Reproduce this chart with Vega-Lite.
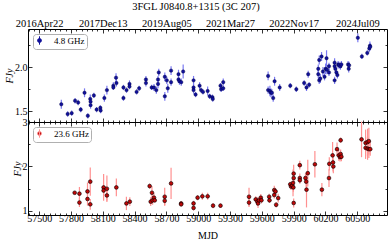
{
  "$schema": "https://vega.github.io/schema/vega-lite/v6.json",
  "padding": {"left": 4, "top": 2, "right": 2, "bottom": 2},
  "title": {"text": "3FGL J0840.8+1315 (3C 207)", "anchor": "middle", "fontSize": 10.5, "font": "Liberation Serif", "fontWeight": "normal", "color": "black", "offset": 3},
  "bounds": "flush",
  "datasets": {
    "c": [
      {"band":"4.8 GHz","mjd":57709,"f":1.58,"err":0.05},{"band":"4.8 GHz","mjd":57769,"f":1.47,"err":0.03},{"band":"4.8 GHz","mjd":57807,"f":1.48,"err":0.03},{"band":"4.8 GHz","mjd":57839,"f":1.62,"err":0.03},{"band":"4.8 GHz","mjd":57868,"f":1.60,"err":0.03},{"band":"4.8 GHz","mjd":57892,"f":1.52,"err":0.03},{"band":"4.8 GHz","mjd":57928,"f":1.71,"err":0.05},{"band":"4.8 GHz","mjd":57959,"f":1.45,"err":0.03},{"band":"4.8 GHz","mjd":57982,"f":1.64,"err":0.05},{"band":"4.8 GHz","mjd":57985,"f":1.61,"err":0.04},{"band":"4.8 GHz","mjd":57985,"f":1.57,"err":0.04},{"band":"4.8 GHz","mjd":58016,"f":1.68,"err":0.03},{"band":"4.8 GHz","mjd":58042,"f":1.52,"err":0.03},{"band":"4.8 GHz","mjd":58077,"f":1.54,"err":0.03},{"band":"4.8 GHz","mjd":58080,"f":1.51,"err":0.03},{"band":"4.8 GHz","mjd":58115,"f":1.65,"err":0.04},{"band":"4.8 GHz","mjd":58139,"f":1.74,"err":0.05},{"band":"4.8 GHz","mjd":58200,"f":1.79,"err":0.04},{"band":"4.8 GHz","mjd":58200,"f":1.77,"err":0.03},{"band":"4.8 GHz","mjd":58225,"f":1.88,"err":0.05},{"band":"4.8 GHz","mjd":58229,"f":1.82,"err":0.04},{"band":"4.8 GHz","mjd":58295,"f":1.77,"err":0.03},{"band":"4.8 GHz","mjd":58295,"f":1.65,"err":0.03},{"band":"4.8 GHz","mjd":58324,"f":1.74,"err":0.03},{"band":"4.8 GHz","mjd":58352,"f":1.81,"err":0.04},{"band":"4.8 GHz","mjd":58352,"f":1.78,"err":0.03},{"band":"4.8 GHz","mjd":58419,"f":1.72,"err":0.03},{"band":"4.8 GHz","mjd":58443,"f":1.76,"err":0.03},{"band":"4.8 GHz","mjd":58507,"f":1.86,"err":0.04},{"band":"4.8 GHz","mjd":58507,"f":1.82,"err":0.04},{"band":"4.8 GHz","mjd":58561,"f":1.77,"err":0.03},{"band":"4.8 GHz","mjd":58583,"f":1.77,"err":0.04},{"band":"4.8 GHz","mjd":58605,"f":1.74,"err":0.04},{"band":"4.8 GHz","mjd":58621,"f":1.86,"err":0.04},{"band":"4.8 GHz","mjd":58621,"f":1.81,"err":0.05},{"band":"4.8 GHz","mjd":58628,"f":1.94,"err":0.04},{"band":"4.8 GHz","mjd":58685,"f":1.67,"err":0.05},{"band":"4.8 GHz","mjd":58685,"f":1.89,"err":0.05},{"band":"4.8 GHz","mjd":58704,"f":1.85,"err":0.04},{"band":"4.8 GHz","mjd":58713,"f":1.76,"err":0.05},{"band":"4.8 GHz","mjd":58744,"f":1.96,"err":0.05},{"band":"4.8 GHz","mjd":58744,"f":1.83,"err":0.04},{"band":"4.8 GHz","mjd":58814,"f":1.92,"err":0.05},{"band":"4.8 GHz","mjd":58814,"f":1.86,"err":0.04},{"band":"4.8 GHz","mjd":58823,"f":1.84,"err":0.04},{"band":"4.8 GHz","mjd":58840,"f":1.83,"err":0.04},{"band":"4.8 GHz","mjd":58858,"f":1.95,"err":0.08},{"band":"4.8 GHz","mjd":58956,"f":1.85,"err":0.05},{"band":"4.8 GHz","mjd":58956,"f":1.77,"err":0.04},{"band":"4.8 GHz","mjd":58956,"f":1.74,"err":0.04},{"band":"4.8 GHz","mjd":58975,"f":1.69,"err":0.03},{"band":"4.8 GHz","mjd":59013,"f":1.79,"err":0.04},{"band":"4.8 GHz","mjd":59027,"f":1.74,"err":0.03},{"band":"4.8 GHz","mjd":59045,"f":1.72,"err":0.03},{"band":"4.8 GHz","mjd":59089,"f":1.73,"err":0.05},{"band":"4.8 GHz","mjd":59108,"f":1.67,"err":0.03},{"band":"4.8 GHz","mjd":59134,"f":1.66,"err":0.03},{"band":"4.8 GHz","mjd":59137,"f":1.64,"err":0.03},{"band":"4.8 GHz","mjd":59210,"f":1.79,"err":0.03},{"band":"4.8 GHz","mjd":59216,"f":1.75,"err":0.03},{"band":"4.8 GHz","mjd":59236,"f":1.83,"err":0.04},{"band":"4.8 GHz","mjd":59236,"f":1.76,"err":0.03},{"band":"4.8 GHz","mjd":59659,"f":1.90,"err":0.05},{"band":"4.8 GHz","mjd":59659,"f":1.74,"err":0.04},{"band":"4.8 GHz","mjd":59676,"f":1.73,"err":0.06},{"band":"4.8 GHz","mjd":59685,"f":1.71,"err":0.05},{"band":"4.8 GHz","mjd":59695,"f":1.71,"err":0.04},{"band":"4.8 GHz","mjd":59707,"f":1.65,"err":0.04},{"band":"4.8 GHz","mjd":59720,"f":1.84,"err":0.05},{"band":"4.8 GHz","mjd":59768,"f":1.77,"err":0.04},{"band":"4.8 GHz","mjd":59868,"f":1.79,"err":0.03},{"band":"4.8 GHz","mjd":59925,"f":1.75,"err":0.03},{"band":"4.8 GHz","mjd":59999,"f":1.82,"err":0.03},{"band":"4.8 GHz","mjd":60021,"f":1.77,"err":0.04},{"band":"4.8 GHz","mjd":60037,"f":1.92,"err":0.04},{"band":"4.8 GHz","mjd":60046,"f":1.80,"err":0.03},{"band":"4.8 GHz","mjd":60132,"f":1.98,"err":0.05},{"band":"4.8 GHz","mjd":60132,"f":1.92,"err":0.05},{"band":"4.8 GHz","mjd":60141,"f":2.08,"err":0.05},{"band":"4.8 GHz","mjd":60141,"f":1.85,"err":0.04},{"band":"4.8 GHz","mjd":60151,"f":1.87,"err":0.05},{"band":"4.8 GHz","mjd":60163,"f":2.12,"err":0.05},{"band":"4.8 GHz","mjd":60176,"f":1.95,"err":0.05},{"band":"4.8 GHz","mjd":60191,"f":1.89,"err":0.04},{"band":"4.8 GHz","mjd":60201,"f":1.98,"err":0.06},{"band":"4.8 GHz","mjd":60210,"f":2.10,"err":0.09},{"band":"4.8 GHz","mjd":60214,"f":1.97,"err":0.05},{"band":"4.8 GHz","mjd":60233,"f":2.01,"err":0.04},{"band":"4.8 GHz","mjd":60233,"f":1.94,"err":0.04},{"band":"4.8 GHz","mjd":60286,"f":2.05,"err":0.05},{"band":"4.8 GHz","mjd":60286,"f":2.01,"err":0.04},{"band":"4.8 GHz","mjd":60286,"f":1.85,"err":0.04},{"band":"4.8 GHz","mjd":60293,"f":1.98,"err":0.04},{"band":"4.8 GHz","mjd":60303,"f":1.94,"err":0.04},{"band":"4.8 GHz","mjd":60312,"f":1.91,"err":0.04},{"band":"4.8 GHz","mjd":60319,"f":2.03,"err":0.04},{"band":"4.8 GHz","mjd":60328,"f":2.02,"err":0.04},{"band":"4.8 GHz","mjd":60341,"f":2.01,"err":0.04},{"band":"4.8 GHz","mjd":60350,"f":2.03,"err":0.04},{"band":"4.8 GHz","mjd":60413,"f":2.03,"err":0.04},{"band":"4.8 GHz","mjd":60419,"f":1.98,"err":0.04},{"band":"4.8 GHz","mjd":60423,"f":2.02,"err":0.04},{"band":"4.8 GHz","mjd":60505,"f":2.33,"err":0.05},{"band":"4.8 GHz","mjd":60543,"f":2.12,"err":0.03},{"band":"4.8 GHz","mjd":60594,"f":2.16,"err":0.03},{"band":"4.8 GHz","mjd":60613,"f":2.21,"err":0.04},{"band":"4.8 GHz","mjd":60619,"f":2.24,"err":0.05},{"band":"4.8 GHz","mjd":60622,"f":2.23,"err":0.04}
    ],
    "k": [
      {"band":"23.6 GHz","mjd":57835,"f":1.41,"err":0.04},{"band":"23.6 GHz","mjd":57880,"f":1.39,"err":0.15},{"band":"23.6 GHz","mjd":57880,"f":1.19,"err":0.1},{"band":"23.6 GHz","mjd":57956,"f":1.44,"err":0.2},{"band":"23.6 GHz","mjd":57956,"f":1.27,"err":0.15},{"band":"23.6 GHz","mjd":57982,"f":1.66,"err":0.32},{"band":"23.6 GHz","mjd":57982,"f":1.15,"err":0.12},{"band":"23.6 GHz","mjd":58108,"f":1.53,"err":0.3},{"band":"23.6 GHz","mjd":58108,"f":1.46,"err":0.1},{"band":"23.6 GHz","mjd":58139,"f":1.50,"err":0.3},{"band":"23.6 GHz","mjd":58139,"f":1.35,"err":0.12},{"band":"23.6 GHz","mjd":58228,"f":1.53,"err":0.2},{"band":"23.6 GHz","mjd":58323,"f":1.17,"err":0.15},{"band":"23.6 GHz","mjd":58355,"f":1.21,"err":0.1},{"band":"23.6 GHz","mjd":58542,"f":1.56,"err":0.06},{"band":"23.6 GHz","mjd":58552,"f":1.21,"err":0.1},{"band":"23.6 GHz","mjd":58564,"f":1.41,"err":0.15},{"band":"23.6 GHz","mjd":58570,"f":1.24,"err":0.1},{"band":"23.6 GHz","mjd":58583,"f":1.30,"err":0.1},{"band":"23.6 GHz","mjd":58590,"f":1.24,"err":0.05},{"band":"23.6 GHz","mjd":58684,"f":1.32,"err":0.2},{"band":"23.6 GHz","mjd":58684,"f":1.23,"err":0.1},{"band":"23.6 GHz","mjd":58744,"f":1.62,"err":0.35},{"band":"23.6 GHz","mjd":58839,"f":1.17,"err":0.05},{"band":"23.6 GHz","mjd":58839,"f":1.15,"err":0.05},{"band":"23.6 GHz","mjd":58956,"f":1.17,"err":0.06},{"band":"23.6 GHz","mjd":58956,"f":1.07,"err":0.06},{"band":"23.6 GHz","mjd":58994,"f":1.30,"err":0.06},{"band":"23.6 GHz","mjd":59039,"f":1.33,"err":0.08},{"band":"23.6 GHz","mjd":59089,"f":1.33,"err":0.08},{"band":"23.6 GHz","mjd":59140,"f":1.12,"err":0.06},{"band":"23.6 GHz","mjd":59210,"f":1.12,"err":0.05},{"band":"23.6 GHz","mjd":59479,"f":1.32,"err":0.2},{"band":"23.6 GHz","mjd":59479,"f":1.19,"err":0.1},{"band":"23.6 GHz","mjd":59542,"f":1.26,"err":0.07},{"band":"23.6 GHz","mjd":59558,"f":1.21,"err":0.1},{"band":"23.6 GHz","mjd":59564,"f":1.17,"err":0.1},{"band":"23.6 GHz","mjd":59574,"f":1.24,"err":0.07},{"band":"23.6 GHz","mjd":59590,"f":1.30,"err":0.08},{"band":"23.6 GHz","mjd":59596,"f":1.24,"err":0.07},{"band":"23.6 GHz","mjd":59669,"f":1.32,"err":0.07},{"band":"23.6 GHz","mjd":59672,"f":1.24,"err":0.06},{"band":"23.6 GHz","mjd":59717,"f":1.47,"err":0.1},{"band":"23.6 GHz","mjd":59717,"f":1.36,"err":0.08},{"band":"23.6 GHz","mjd":59729,"f":1.44,"err":0.08},{"band":"23.6 GHz","mjd":59735,"f":1.14,"err":0.06},{"band":"23.6 GHz","mjd":59754,"f":1.29,"err":0.1},{"band":"23.6 GHz","mjd":59868,"f":1.60,"err":0.06},{"band":"23.6 GHz","mjd":59875,"f":1.55,"err":0.08},{"band":"23.6 GHz","mjd":59887,"f":1.57,"err":0.08},{"band":"23.6 GHz","mjd":59894,"f":1.63,"err":0.3},{"band":"23.6 GHz","mjd":59900,"f":1.84,"err":0.2},{"band":"23.6 GHz","mjd":59900,"f":1.74,"err":0.1},{"band":"23.6 GHz","mjd":59897,"f":1.53,"err":0.1},{"band":"23.6 GHz","mjd":59900,"f":1.18,"err":0.1},{"band":"23.6 GHz","mjd":59958,"f":2.03,"err":0.1},{"band":"23.6 GHz","mjd":59958,"f":1.74,"err":0.1},{"band":"23.6 GHz","mjd":59958,"f":1.69,"err":0.08},{"band":"23.6 GHz","mjd":60011,"f":1.74,"err":0.1},{"band":"23.6 GHz","mjd":60018,"f":1.66,"err":0.12},{"band":"23.6 GHz","mjd":60021,"f":1.48,"err":0.4},{"band":"23.6 GHz","mjd":60033,"f":1.85,"err":0.3},{"band":"23.6 GHz","mjd":60100,"f":2.05,"err":0.3},{"band":"23.6 GHz","mjd":60166,"f":1.48,"err":0.15},{"band":"23.6 GHz","mjd":60233,"f":1.74,"err":0.2},{"band":"23.6 GHz","mjd":60236,"f":2.06,"err":0.15},{"band":"23.6 GHz","mjd":60267,"f":2.25,"err":0.3},{"band":"23.6 GHz","mjd":60271,"f":2.09,"err":0.2},{"band":"23.6 GHz","mjd":60274,"f":2.00,"err":0.15},{"band":"23.6 GHz","mjd":60309,"f":2.39,"err":0.15},{"band":"23.6 GHz","mjd":60325,"f":2.25,"err":0.12},{"band":"23.6 GHz","mjd":60337,"f":2.21,"err":0.1},{"band":"23.6 GHz","mjd":60343,"f":2.28,"err":0.1},{"band":"23.6 GHz","mjd":60350,"f":2.22,"err":0.1},{"band":"23.6 GHz","mjd":60343,"f":2.59,"err":0.06},{"band":"23.6 GHz","mjd":60540,"f":2.61,"err":0.4},{"band":"23.6 GHz","mjd":60578,"f":2.53,"err":0.3},{"band":"23.6 GHz","mjd":60578,"f":2.42,"err":0.25},{"band":"23.6 GHz","mjd":60597,"f":2.55,"err":0.3},{"band":"23.6 GHz","mjd":60597,"f":2.40,"err":0.25},{"band":"23.6 GHz","mjd":60609,"f":2.57,"err":0.3},{"band":"23.6 GHz","mjd":60609,"f":2.39,"err":0.2},{"band":"23.6 GHz","mjd":60622,"f":2.39,"err":0.15}
    ]
  },
  "vconcat": [
    {
      "width": 359, "height": 93,
      "layer": [
        {
          "data": {"name": "c"},
          "mark": {"type": "errorbar", "color": "#7a7af2", "thickness": 1.2},
          "encoding": {
            "x": {"field": "mjd", "type": "quantitative", "scale": {"domain": [57395, 60780], "nice": false, "zero": false},
              "axis": {"orient": "bottom", "title": null, "labels": false, "domain": false, "values": [57400,57450,57500,57550,57600,57650,57700,57750,57800,57850,57900,57950,58000,58050,58100,58150,58200,58250,58300,58350,58400,58450,58500,58550,58600,58650,58700,58750,58800,58850,58900,58950,59000,59050,59100,59150,59200,59250,59300,59350,59400,59450,59500,59550,59600,59650,59700,59750,59800,59850,59900,59950,60000,60050,60100,60150,60200,60250,60300,60350,60400,60450,60500,60550,60600,60650,60700,60750],
                "tickSize": {"condition": {"test": "(datum.value-57500)%300==0", "value": -4}, "value": -2}}},
            "y": {"field": "f", "type": "quantitative", "scale": {"domain": [1.38, 2.43], "nice": false, "zero": false},
              "axis": {"orient": "left", "title": "FJy", "titleFontStyle": "italic", "titlePadding": 0, "domain": false, "values": [1.5, 1.75, 2.0, 2.25], "labelOverlap": false, "labelPadding": 5,
                "labelExpr": "(datum.value==1.5||datum.value==2) ? format(datum.value,'.1f') : ''",
                "tickSize": {"condition": {"test": "datum.value==1.5||datum.value==2", "value": -4}, "value": -2}}},
            "yError": {"field": "err"}
          }
        },
        {
          "data": {"name": "c"},
          "mark": {"type": "point", "filled": true, "size": 12, "stroke": "#000040", "strokeWidth": 0.4, "opacity": 1},
          "encoding": {
            "x": {"field": "mjd", "type": "quantitative",
              "axis": {"orient": "top", "title": null, "domain": false, "labelOverlap": false, "labelPadding": 5, "labelFontSize": 10.5, "values": [57400,57450,57500,57550,57600,57650,57700,57750,57800,57850,57900,57950,58000,58050,58100,58150,58200,58250,58300,58350,58400,58450,58500,58550,58600,58650,58700,58750,58800,58850,58900,58950,59000,59050,59100,59150,59200,59250,59300,59350,59400,59450,59500,59550,59600,59650,59700,59750,59800,59850,59900,59950,60000,60050,60100,60150,60200,60250,60300,60350,60400,60450,60500,60550,60600,60650,60700,60750],
                "labelExpr": "(datum.value-57500)%600==0 ? utcFormat((datum.value-40587)*86400000,'%Y%b%d') : ''",
                "tickSize": {"condition": {"test": "(datum.value-57500)%300==0", "value": -4}, "value": -2}}},
            "y": {"field": "f", "type": "quantitative",
              "axis": {"orient": "right", "title": null, "labels": false, "domain": false, "values": [1.5, 1.75, 2.0, 2.25],
                "tickSize": {"condition": {"test": "datum.value==1.5||datum.value==2", "value": -4}, "value": -2}}},
            "color": {"field": "band", "type": "nominal", "scale": {"domain": ["4.8 GHz"], "range": ["#10109a"]},
              "legend": {"orient": "top-left", "title": null, "offset": 5, "padding": 2, "strokeColor": "#b0b0b0", "cornerRadius": 3, "fillColor": "white",
                "labelFontSize": 9, "labelFont": "Liberation Serif", "symbolType": "M0,-1.4V1.4M-0.65,0A0.65,0.65,0,1,1,0.65,0A0.65,0.65,0,1,1,-0.65,0Z",
                "symbolSize": 36, "symbolStrokeColor": "#10109a", "symbolStrokeWidth": 1, "labelOffset": 10}}
          }
        }
      ],
      "resolve": {"axis": {"x": "independent", "y": "independent"}}
    },
    {
      "width": 359, "height": 93,
      "layer": [
        {
          "data": {"name": "k"},
          "mark": {"type": "errorbar", "color": "#ff9090", "thickness": 1.2},
          "encoding": {
            "x": {"field": "mjd", "type": "quantitative", "scale": {"domain": [57395, 60780], "nice": false, "zero": false},
              "axis": {"orient": "bottom", "title": "MJD", "titlePadding": 5, "domain": false, "labelOverlap": false, "labelPadding": 2, "values": [57400,57450,57500,57550,57600,57650,57700,57750,57800,57850,57900,57950,58000,58050,58100,58150,58200,58250,58300,58350,58400,58450,58500,58550,58600,58650,58700,58750,58800,58850,58900,58950,59000,59050,59100,59150,59200,59250,59300,59350,59400,59450,59500,59550,59600,59650,59700,59750,59800,59850,59900,59950,60000,60050,60100,60150,60200,60250,60300,60350,60400,60450,60500,60550,60600,60650,60700,60750],
                "labelExpr": "(datum.value-57500)%300==0 ? format(datum.value,'d') : ''",
                "tickSize": {"condition": {"test": "(datum.value-57500)%300==0", "value": -4}, "value": -2}}},
            "y": {"field": "f", "type": "quantitative", "scale": {"domain": [0.91, 3.0], "nice": false, "zero": false},
              "axis": {"orient": "left", "title": "FJy", "titleFontStyle": "italic", "titlePadding": 0, "domain": false, "values": [1, 1.5, 2, 2.5, 3], "labelOverlap": false, "labelPadding": 5,
                "labelExpr": "datum.value%1==0 ? format(datum.value,'d') : ''",
                "tickSize": {"condition": {"test": "datum.value%1==0", "value": -4}, "value": -2}}},
            "yError": {"field": "err"}
          }
        },
        {
          "data": {"name": "k"},
          "mark": {"type": "point", "filled": true, "size": 14, "stroke": "black", "strokeWidth": 0.6, "opacity": 1},
          "encoding": {
            "x": {"field": "mjd", "type": "quantitative",
              "axis": {"orient": "top", "title": null, "labels": false, "domain": false, "values": [57400,57450,57500,57550,57600,57650,57700,57750,57800,57850,57900,57950,58000,58050,58100,58150,58200,58250,58300,58350,58400,58450,58500,58550,58600,58650,58700,58750,58800,58850,58900,58950,59000,59050,59100,59150,59200,59250,59300,59350,59400,59450,59500,59550,59600,59650,59700,59750,59800,59850,59900,59950,60000,60050,60100,60150,60200,60250,60300,60350,60400,60450,60500,60550,60600,60650,60700,60750],
                "tickSize": {"condition": {"test": "(datum.value-57500)%300==0", "value": -4}, "value": -2}}},
            "y": {"field": "f", "type": "quantitative",
              "axis": {"orient": "right", "title": null, "labels": false, "domain": false, "values": [1, 1.5, 2, 2.5, 3],
                "tickSize": {"condition": {"test": "datum.value%1==0", "value": -4}, "value": -2}}},
            "color": {"field": "band", "type": "nominal", "scale": {"domain": ["23.6 GHz"], "range": ["#c00808"]},
              "legend": {"orient": "top-left", "title": null, "offset": 5, "padding": 2, "strokeColor": "#b0b0b0", "cornerRadius": 3, "fillColor": "white",
                "labelFontSize": 9, "labelFont": "Liberation Serif", "symbolType": "M0,-1.4V1.4M-0.65,0A0.65,0.65,0,1,1,0.65,0A0.65,0.65,0,1,1,-0.65,0Z",
                "symbolSize": 36, "symbolStrokeColor": "#ff9090", "symbolStrokeWidth": 1, "labelOffset": 10}}
          }
        }
      ],
      "resolve": {"axis": {"x": "independent", "y": "independent"}}
    }
  ],
  "spacing": 0,
  "resolve": {"scale": {"color": "independent"}, "legend": {"color": "independent"}},
  "config": {
    "font": "Liberation Serif",
    "view": {"stroke": "black", "strokeWidth": 1},
    "axis": {"grid": false, "labelFont": "Liberation Serif", "labelFontSize": 10, "labelColor": "black", "titleFont": "Liberation Serif", "titleFontSize": 10, "titleFontWeight": "normal", "titleColor": "black", "tickColor": "black", "tickWidth": 0.8}
  }
}
